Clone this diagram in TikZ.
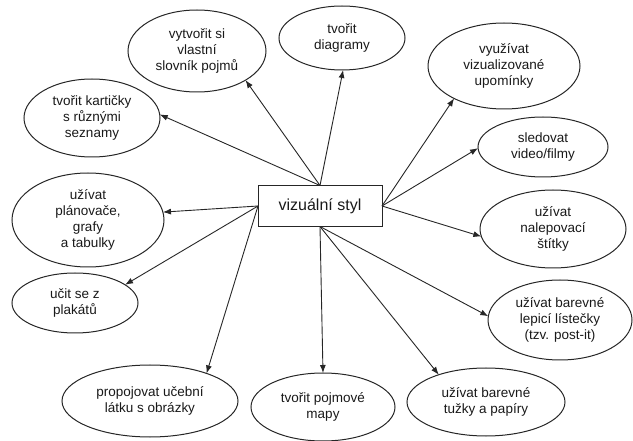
\documentclass[tikz,border=0pt]{standalone}
\usepackage{fontspec}
\setmainfont{Liberation Sans}
\usepackage{tikz}
\usetikzlibrary{shapes, arrows.meta}
\tikzset{
    idea/.style={ellipse, draw=black!85, line width=1pt, inner sep=0pt, outer sep=0pt, align=center, text=black!90, font=\fontsize{13.5}{16}\selectfont},
    hub/.style={rectangle, draw=black!85, line width=1pt, inner sep=0pt, outer sep=0pt, minimum width=124pt, minimum height=41pt, text=black!90, font=\fontsize{16}{18}\selectfont},
    link/.style={-{Latex[length=8pt,width=6pt]}, line width=0.9pt, black!85},
}

\begin{document}
\begin{tikzpicture}[x=1pt, y=-1pt]
            \useasboundingbox (0,0) rectangle (633,441);
            % center
            \node[hub] (styl) at (320,206) {vizuální styl};
            % ideas around it
            \node[idea, minimum width=138pt, minimum height=82pt] (vytvorit) at (197,51) {vytvořit si\\vlastní\\slovník pojmů};
            \node[idea, minimum width=136pt, minimum height=78pt] (karticky) at (92,118) {tvořit kartičky\\s různými\\seznamy};
            \node[idea, minimum width=126pt, minimum height=64pt] (diagramy) at (342,38) {tvořit\\diagramy};
            \node[idea, minimum width=152pt, minimum height=86pt] (vyuzivat) at (504,66) {využívat\\vizualizované\\upomínky};
            \node[idea, minimum width=130pt, minimum height=60pt] (sledovat) at (543,147) {sledovat\\video/filmy};
            \node[idea, minimum width=146pt, minimum height=78pt] (nalepovaci) at (553,229) {užívat\\nalepovací\\štítky};
            \node[idea, minimum width=144pt, minimum height=80pt] (postit) at (560,320) {užívat barevné\\lepicí lístečky\\(tzv. post-it)};
            \node[idea, minimum width=158pt, minimum height=68pt] (tuzky) at (486,402) {užívat barevné\\tužky a papíry};
            \node[idea, minimum width=144pt, minimum height=68pt] (mapy) at (323,407) {tvořit pojmové\\mapy};
            \node[idea, minimum width=176pt, minimum height=72pt] (propojovat) at (150,401) {propojovat učební\\látku s obrázky};
            \node[idea, minimum width=126pt, minimum height=60pt] (plakaty) at (75,303) {učit se z\\plakátů};
            \node[idea, minimum width=152pt, minimum height=94pt] (planovace) at (88,220) {užívat\\plánovače,\\grafy\\a tabulky};
            % arrows out of the box
            \foreach \s/\t in {north/vytvorit.-31, north/karticky.3, north/diagramy.-88,
                               east/vyuzivat.-147, east/sledovat.-179, east/nalepovaci.186,
                               south/postit.177, south/tuzky.150, south/mapy.90,
                               west/propojovat.26, west/plakaty.20, west/planovace.6} {
                \draw[link] (styl.\s) -- (\t);
            }
        \end{tikzpicture}
\end{document}
